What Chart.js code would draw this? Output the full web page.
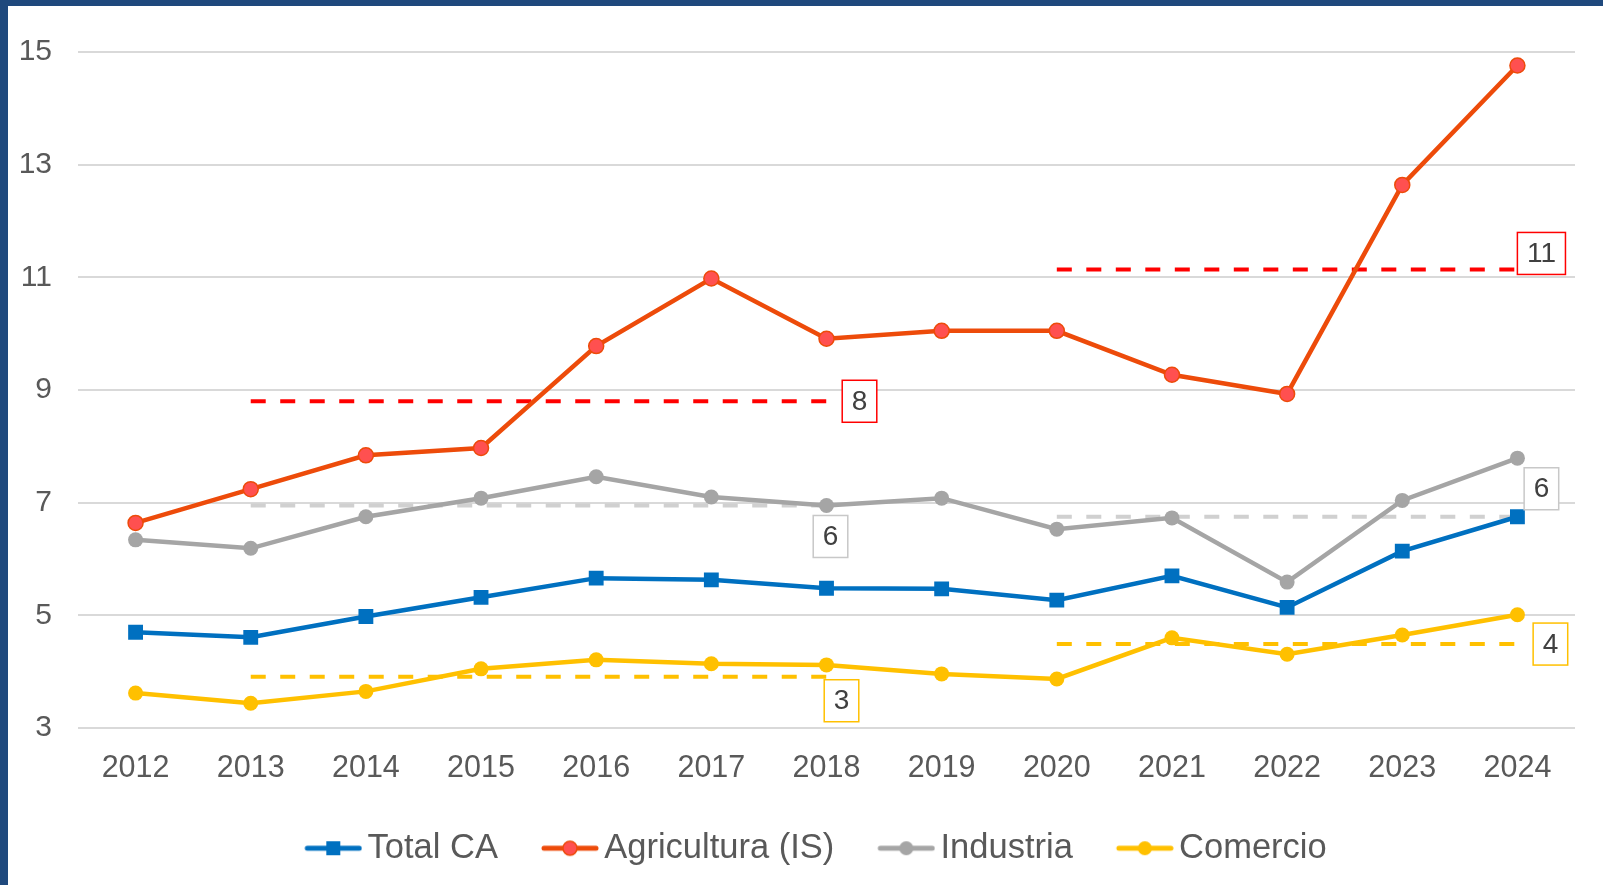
<!DOCTYPE html>
<html>
<head>
<meta charset="utf-8">
<script src="https://cdn.jsdelivr.net/npm/chart.js@4"></script>
<style>
  html, body { margin: 0; padding: 0; background: #1f497d; }
  #frame { position: absolute; left: 8px; top: 6px; width: 1595px; height: 879px; background: #fff; }
</style>
</head>
<body>
<div id="frame"><canvas id="lineChart" width="1595" height="879"></canvas></div>
<script>
const years = ['2012', '2013', '2014', '2015', '2016', '2017', '2018', '2019', '2020', '2021', '2022', '2023', '2024'];

const totalCA     = [4.70, 4.61, 4.98, 5.32, 5.66, 5.63, 5.48, 5.47, 5.27, 5.70, 5.14, 6.14, 6.75];
const agricultura = [6.64, 7.24, 7.84, 7.97, 9.78, 10.98, 9.91, 10.05, 10.05, 9.27, 8.93, 12.64, 14.76];
const industria   = [6.34, 6.19, 6.75, 7.08, 7.46, 7.10, 6.95, 7.08, 6.53, 6.73, 5.59, 7.04, 7.79];
const comercio    = [3.62, 3.44, 3.65, 4.05, 4.21, 4.14, 4.12, 3.96, 3.87, 4.60, 4.31, 4.65, 5.01];

// period averages (2013-2018 and 2020-2024)
const agriAvgA = [null, 8.8, 8.8, 8.8, 8.8, 8.8, 8.8, null, null, null, null, null, null];
const agriAvgB = [null, null, null, null, null, null, null, null, 11.14, 11.14, 11.14, 11.14, 11.14];
const indAvgA  = [null, 6.95, 6.95, 6.95, 6.95, 6.95, 6.95, null, null, null, null, null, null];
const indAvgB  = [null, null, null, null, null, null, null, null, 6.75, 6.75, 6.75, 6.75, 6.75];
const comAvgA  = [null, 3.91, 3.91, 3.91, 3.91, 3.91, 3.91, null, null, null, null, null, null];
const comAvgB  = [null, null, null, null, null, null, null, null, 4.49, 4.49, 4.49, 4.49, 4.49];

const avgLabels = ['8', '11', '6', '6', '3', '4'];
const yTicks = [3, 5, 7, 9, 11, 13, 15];

const FONT = '"Liberation Sans", Arial, sans-serif';
const BLUE = '#0070c0', ORANGE = '#ed4b0a', GREY = '#a5a5a5', YELLOW = '#ffc000';

// legend marker: short line with the point in the middle
// (drawn in the right part of a wider canvas so the text sits close to it)
function legendIcon(color, shape, fill) {
  const c = document.createElement('canvas');
  c.width = 94; c.height = 22;
  const g = c.getContext('2d');
  g.strokeStyle = color; g.lineWidth = 5; g.lineCap = 'round';
  g.beginPath(); g.moveTo(39, 11); g.lineTo(91, 11); g.stroke();
  if (shape === 'rect') {
    g.fillStyle = color; g.fillRect(58, 4, 14, 14);
  } else {
    g.fillStyle = fill || color;
    g.beginPath(); g.arc(65, 11, 7, 0, Math.PI * 2); g.fill();
    if (fill) { g.lineWidth = 1.5; g.stroke(); }
  }
  return c;
}

function mainSeries(label, data, color, style, fill) {
  return {
    label: label, data: data, order: 0,
    borderColor: color, backgroundColor: fill || color,
    borderWidth: 4.5, pointStyle: style,
    pointRadius: style === 'rect' ? 10.5 : 7.5,
    pointBorderWidth: fill ? 1.5 : 0, pointBorderColor: color,
    pointHoverRadius: 8, tension: 0,
    legendIcon: legendIcon(color, style, fill)
  };
}

function avgSeries(data, color, tag, tagBorder, dx, dy) {
  return {
    label: '', data: data, order: 1, isAvg: true,
    borderColor: color, borderWidth: 4, borderDash: [15, 14.5],
    pointRadius: 0, spanGaps: false,
    tag: tag, tagBorder: tagBorder, tagDx: dx, tagDy: dy
  };
}

// boxed value next to the end of each dashed average
const avgTags = {
  id: 'avgTags',
  afterDatasetsDraw(chart) {
    const ctx = chart.ctx;
    ctx.save();
    ctx.font = '28px ' + FONT;
    ctx.textAlign = 'center';
    ctx.textBaseline = 'middle';
    chart.data.datasets.forEach((ds, i) => {
      if (!ds.isAvg) return;
      let last = -1;
      ds.data.forEach((v, j) => { if (v !== null) last = j; });
      const pt = chart.getDatasetMeta(i).data[last];
      const w = ctx.measureText(ds.tag).width + 19;
      const h = 42;
      const cx = pt.x + ds.tagDx, cy = pt.y + ds.tagDy;
      ctx.fillStyle = '#fff';
      ctx.fillRect(cx - w / 2, cy - h / 2, w, h);
      ctx.strokeStyle = ds.tagBorder; ctx.lineWidth = 1.5;
      ctx.strokeRect(cx - w / 2, cy - h / 2, w, h);
      ctx.fillStyle = '#404040';
      ctx.fillText(ds.tag, cx, cy + 1);
    });
    ctx.restore();
  }
};

// nudge the legend row a bit to the right, like the original
const legendShift = {
  id: 'legendShift',
  afterLayout(chart) {
    chart.legend.left += 12;
    chart.legend.right += 12;
  }
};

const lineChart = new Chart(document.getElementById('lineChart'), {
  type: 'line',
  data: {
    labels: years,
    datasets: [
      mainSeries('Total CA', totalCA, BLUE, 'rect'),
      mainSeries('Agricultura (IS)', agricultura, ORANGE, 'circle', '#ff5050'),
      mainSeries('Industria', industria, GREY, 'circle'),
      mainSeries('Comercio', comercio, YELLOW, 'circle'),
      avgSeries(agriAvgA, '#ff0000', avgLabels[0], '#ff0000', 33, 0),
      avgSeries(agriAvgB, '#ff0000', avgLabels[1], '#ff0000', 24, -16),
      avgSeries(indAvgA, '#d0d0d0', avgLabels[2], '#c8c8c8', 4, 31),
      avgSeries(indAvgB, '#d0d0d0', avgLabels[3], '#c8c8c8', 24, -28),
      avgSeries(comAvgA, YELLOW, avgLabels[4], YELLOW, 15, 24),
      avgSeries(comAvgB, YELLOW, avgLabels[5], YELLOW, 33, 0)
    ]
  },
  options: {
    responsive: false,
    animation: false,
    layout: { padding: { left: 0, right: 28, top: 46, bottom: 9.5 } },
    plugins: {
      tooltip: { enabled: false },
      legend: {
        position: 'bottom',
        labels: {
          usePointStyle: true,
          pointStyleWidth: 70,
          padding: 19,
          color: '#595959',
          font: { family: FONT, size: 34.5 },
          generateLabels: chart => chart.data.datasets.slice(0, 4).map((ds, i) => ({
            text: ds.label, datasetIndex: i, pointStyle: ds.legendIcon,
            fontColor: '#595959', lineWidth: 0, strokeStyle: 'transparent', fillStyle: 'transparent'
          }))
        }
      }
    },
    scales: {
      x: {
        offset: true,
        grid: { display: false },
        border: { display: false },
        ticks: { color: '#595959', font: { family: FONT, size: 30.5 }, padding: 14, maxRotation: 0 },
        afterFit: s => { s.height = 84; }
      },
      y: {
        min: 3, max: 15,
        afterBuildTicks: s => { s.ticks = yTicks.map(v => ({ value: v })); },
        grid: { color: '#d9d9d9', lineWidth: 2, drawTicks: false },
        border: { display: false },
        ticks: { color: '#595959', font: { family: FONT, size: 30 }, padding: 26 },
        afterFit: s => { s.width = 70; }
      }
    }
  },
  plugins: [avgTags, legendShift]
});
</script>
</body>
</html>
